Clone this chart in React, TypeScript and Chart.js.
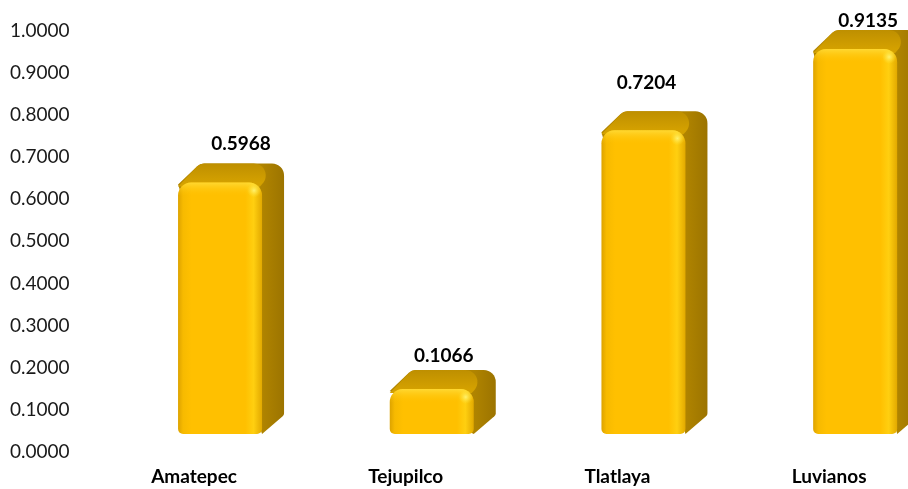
import React, { useEffect, useRef } from "react";
import { Chart, registerables } from "chart.js";

Chart.register(...registerables);

const categories: string[] = ["Amatepec", "Tejupilco", "Tlatlaya", "Luvianos"];
const values: number[] = [0.5968, 0.1066, 0.7204, 0.9135];
const yMin = 0;
const yMax = 1;
const yStep = 0.1;

// manual data-label nudges (px) as placed in the original chart
const labelShiftX: number[] = [21, 12, 3, 13];
const labelShiftY: number[] = [-39, -33, -47, -28];

type Pt = [number, number];

function roundPoly(ctx: CanvasRenderingContext2D, pts: Pt[], radii: number[]) {
  const n = pts.length;
  ctx.beginPath();
  const a = pts[n - 1];
  const b = pts[0];
  ctx.moveTo((a[0] + b[0]) / 2, (a[1] + b[1]) / 2);
  for (let i = 0; i < n; i++) {
    const p = pts[i];
    const q = pts[(i + 1) % n];
    ctx.arcTo(p[0], p[1], q[0], q[1], radii[i]);
  }
  ctx.closePath();
}

function drawBar3D(ctx: CanvasRenderingContext2D, x: number, y: number, base: number, w: number) {
  const l = x - w / 2;
  const r = x + w / 2;
  const dx = 22;
  const dy = -19;
  const h = base - y;
  const rad = Math.min(13, h / 2.5);

  const sideG = ctx.createLinearGradient(r, 0, r + dx, 0);
  sideG.addColorStop(0, "#B08400");
  sideG.addColorStop(1, "#9C7400");
  ctx.fillStyle = sideG;
  roundPoly(
    ctx,
    [
      [l, y + 2],
      [l + dx, y + dy],
      [r + dx, y + dy],
      [r + dx, base + dy],
      [r, base],
    ],
    [0, 10, 12, 4, 0]
  );
  ctx.fill();

  const topG = ctx.createLinearGradient(0, y + dy, 0, y);
  topG.addColorStop(0, "#BE8F00");
  topG.addColorStop(1, "#D4A100");
  ctx.fillStyle = topG;
  roundPoly(
    ctx,
    [
      [l, y + 4],
      [l + dx, y + dy],
      [r + dx - 4, y + dy],
      [r - 2, y + 4],
    ],
    [0, 10, 12, 0]
  );
  ctx.fill();

  const frontG = ctx.createLinearGradient(l, 0, r, 0);
  frontG.addColorStop(0, "#DDA300");
  frontG.addColorStop(0.06, "#F7BA00");
  frontG.addColorStop(0.16, "#FFC000");
  frontG.addColorStop(0.8, "#FFC000");
  frontG.addColorStop(0.9, "#FFCF10");
  frontG.addColorStop(1, "#E2A900");
  ctx.fillStyle = frontG;
  ctx.beginPath();
  ctx.roundRect(l, y, w, h, [rad, rad, 5, 5]);
  ctx.fill();

  const hl = ctx.createLinearGradient(0, y, 0, y + 14);
  hl.addColorStop(0, "rgba(255,226,70,0.7)");
  hl.addColorStop(1, "rgba(255,192,0,0)");
  ctx.fillStyle = hl;
  ctx.beginPath();
  ctx.roundRect(l, y, w, Math.min(14, h), [rad, rad, 0, 0]);
  ctx.fill();

  const sp = ctx.createRadialGradient(r - 8, y + 8, 0, r - 8, y + 8, 7);
  sp.addColorStop(0, "rgba(255,245,120,0.9)");
  sp.addColorStop(1, "rgba(255,230,60,0)");
  ctx.fillStyle = sp;
  ctx.beginPath();
  ctx.arc(r - 8, y + 8, 7, 0, Math.PI * 2);
  ctx.fill();
}

const bar3dPlugin = {
  id: "bar3d",
  afterDatasetsDraw(chart: any) {
    const ctx: CanvasRenderingContext2D = chart.ctx;
    const meta = chart.getDatasetMeta(0);
    const ds = chart.data.datasets[0];
    ctx.save();
    meta.data.forEach((el: any, i: number) => {
      const { x, y, base, width } = el.getProps(["x", "y", "base", "width"], true);
      drawBar3D(ctx, x, y, base, width);
      ctx.fillStyle = "#000000";
      ctx.font = "bold 19px Lato";
      ctx.textAlign = "center";
      ctx.textBaseline = "middle";
      ctx.fillText((ds.data[i] as number).toFixed(4), x + labelShiftX[i], y + labelShiftY[i]);
    });
    ctx.restore();
  },
};

export default function App() {
  const ref = useRef<HTMLCanvasElement | null>(null);

  useEffect(() => {
    if (!ref.current) return;
    const chart = new Chart(ref.current, {
      type: "bar",
      data: {
        labels: categories,
        datasets: [
          {
            data: values,
            backgroundColor: "rgba(0,0,0,0)",
            borderWidth: 0,
            barThickness: 84,
          },
        ],
      },
      options: {
        responsive: false,
        animation: false,
        layout: { padding: { left: 10, top: 10, right: 1, bottom: 0 } },
        plugins: {
          legend: { display: false },
          tooltip: { enabled: false },
        },
        scales: {
          x: {
            grid: { display: false, drawTicks: false },
            border: { display: false },
            ticks: {
              color: "#000000",
              font: { family: "Lato", size: 19, weight: "bold", lineHeight: 1.2 },
              padding: 31,
              labelOffset: -26,
              maxRotation: 0,
              autoSkip: false,
            },
            afterFit: (s: any) => {
              s.height = 55;
            },
          },
          y: {
            min: yMin,
            max: yMax,
            grid: { display: false, drawTicks: false },
            border: { display: false },
            ticks: {
              stepSize: yStep,
              color: "#1a1a1a",
              font: { family: "Lato", size: 19, lineHeight: 1 },
              crossAlign: "far",
              labelOffset: 18,
              callback: (v: any) => Number(v).toFixed(4),
            },
            afterFit: (s: any) => {
              s.width = 104.2;
            },
          },
        },
      },
      plugins: [bar3dPlugin],
    });
    return () => chart.destroy();
  }, []);

  return (
    <div
      style={{
        position: "fixed",
        left: 0,
        top: 0,
        width: 908,
        height: 489,
        overflow: "hidden",
        background: "#ffffff",
      }}
    >
      <canvas ref={ref} width={962} height={489} style={{ display: "block" }} />
    </div>
  );
}
